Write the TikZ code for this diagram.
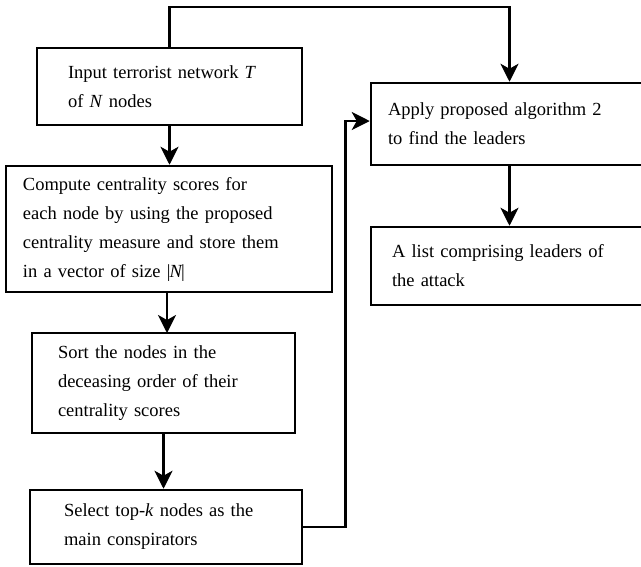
\documentclass[tikz,border=0pt]{standalone}
\usepackage{fontspec}
\setmainfont{Liberation Serif}
\usepackage{tikz}
\usetikzlibrary{arrows.meta,calc,positioning}

\tikzset{
  stage/.style={draw, line width=2.5pt, align=left, inner ysep=0pt,
    font=\fontsize{18.5}{29}\selectfont},
  flow/.style={line width=2.5pt, -{Stealth[length=18pt,width=18pt,inset=5pt]}},
}

\begin{document}
\begin{tikzpicture}[x=1pt,y=-1pt]
\clip (0,0) rectangle (641,566);
\node[stage, text width=203, inner xsep=31, minimum height=77] (inp) at (169.5,86.5)
  {Input terrorist network \textit{T}\\ of \textit{N} nodes};
\node[stage, text width=292, inner xsep=17, minimum height=126] (cmp) at (169,229)
  {Compute centrality scores for\\ each node by using the proposed\\ centrality measure and store them\\ in a vector of size \textbar\kern-1pt\textit{N}\kern-1.5pt\textbar};
\node[stage, text width=211, inner xsep=26, minimum height=100] (srt) at (163.5,383)
  {Sort the nodes in the\\ deceasing order of their\\ centrality scores};
\node[stage, text width=204, inner xsep=34, minimum height=74] (sel) at (166,527)
  {Select top-\textit{k} nodes as the\\ main conspirators};
\node[stage, text width=243, inner xsep=17, minimum height=82] (app) at (509.5,124)
  {Apply proposed algorithm 2\\ to find the leaders};
\node[stage, text width=235, inner xsep=21, minimum height=78] (lst) at (509.5,266)
  {A list comprising leaders of\\ the attack};
%% connectors
\draw[flow] (inp) -- (inp |- cmp.north);
\draw[flow] (167,292) -- (167,333);
\draw[flow] (srt) -- (srt |- sel.north);
\draw[flow] (inp.north) -- ++(0,-40) -| (app.north);
\draw[flow] (app) -- (app |- lst.north);
\draw[flow] (sel.east) -- ++(42,0) |- ([yshift=3]app.west);
\end{tikzpicture}
\end{document}
